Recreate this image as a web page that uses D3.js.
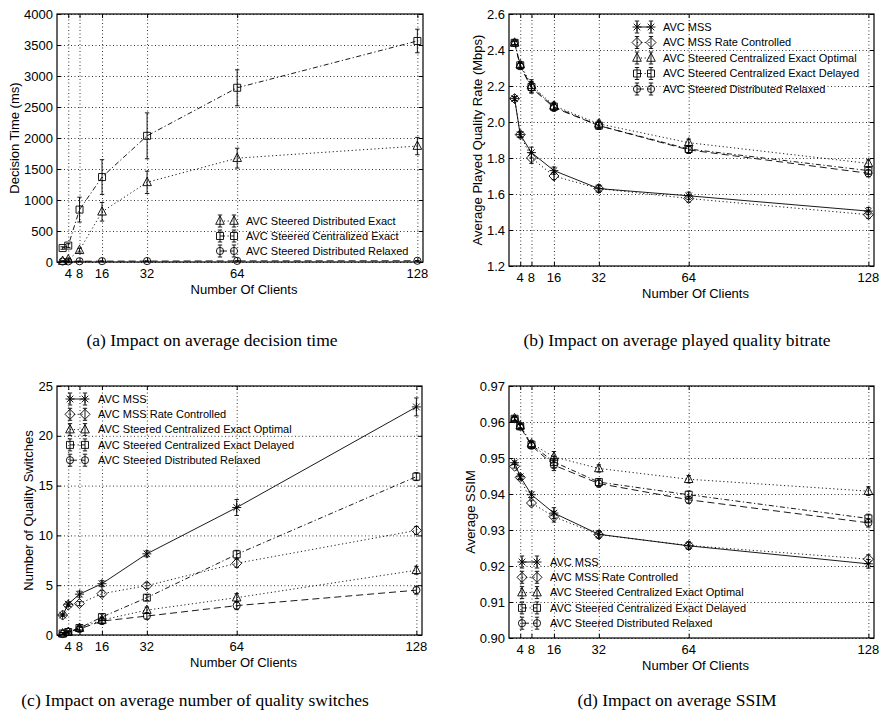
<!DOCTYPE html>
<html>
<head>
<meta charset="utf-8">
<script src="https://cdn.jsdelivr.net/npm/d3@7"></script>
<style>
  body { margin: 0; background: #fff; }
  svg text { font-family: "Liberation Sans", Arial, sans-serif; fill: #000; }
  svg text.cap { font-family: "Liberation Serif", "Times New Roman", serif; }
</style>
</head>
<body>
<svg id="chart" width="880" height="721"></svg>
<script>
const clients = [2, 4, 8, 16, 32, 64, 128];
const xTicks = [4, 8, 16, 32, 64, 128];

// (a) decision time, ms
const timeTicks = [0, 500, 1000, 1500, 2000, 2500, 3000, 3500, 4000];
const timeDistExact = [15, 40, 190, 810, 1285, 1675, 1870];
const timeDistExactErr = [5, 10, 30, 150, 180, 160, 140];
const timeCentExact = [225, 265, 845, 1370, 2035, 2810, 3565];
const timeCentExactErr = [20, 30, 200, 280, 370, 290, 190];
const timeDistRelaxed = [8, 10, 12, 14, 15, 18, 20];
const timeDistRelaxedErr = [3, 3, 3, 3, 3, 3, 3];

// (b) played quality rate, Mbps
const rateTicks = [1.2, 1.4, 1.6, 1.8, 2.0, 2.2, 2.4, 2.6];
const rateMss = [2.13, 1.93, 1.83, 1.73, 1.63, 1.59, 1.505];
const rateMssRc = [2.13, 1.93, 1.80, 1.70, 1.63, 1.575, 1.485];
const rateCentOpt = [2.44, 2.32, 2.205, 2.09, 1.99, 1.885, 1.77];
const rateCentDelayed = [2.44, 2.315, 2.195, 2.085, 1.98, 1.85, 1.73];
const rateDistRelaxed = [2.44, 2.31, 2.19, 2.08, 1.98, 1.845, 1.715];
const rateErr = [0.01, 0.015, 0.03, 0.02, 0.02, 0.02, 0.02];

// (c) quality switches
const switchTicks = [0, 5, 10, 15, 20, 25];
const switchMss = [2.0, 3.1, 4.1, 5.15, 8.15, 12.8, 22.9];
const switchMssErr = [0.1, 0.2, 0.3, 0.3, 0.3, 0.8, 0.9];
const switchMssRc = [2.0, 3.0, 3.15, 4.15, 4.95, 7.2, 10.5];
const switchCentOpt = [0.15, 0.3, 0.7, 1.5, 2.5, 3.75, 6.5];
const switchCentDelayed = [0.15, 0.3, 0.7, 1.8, 3.75, 8.1, 15.9];
const switchDistRelaxed = [0.1, 0.3, 0.6, 1.4, 1.9, 2.95, 4.5];
const switchErr = [0.1, 0.1, 0.2, 0.3, 0.3, 0.4, 0.4];

// (d) SSIM
const ssimTicks = [0.90, 0.91, 0.92, 0.93, 0.94, 0.95, 0.96, 0.97];
const ssimMss = [0.9487, 0.9448, 0.9398, 0.9347, 0.9288, 0.9256, 0.9206];
const ssimMssRc = [0.9477, 0.9446, 0.9375, 0.9337, 0.9287, 0.9257, 0.9219];
const ssimCentOpt = [0.9610, 0.9590, 0.9540, 0.9503, 0.9471, 0.9441, 0.9408];
const ssimCentDelayed = [0.9609, 0.9588, 0.9537, 0.9489, 0.9433, 0.9398, 0.9332];
const ssimDistRelaxed = [0.9608, 0.9587, 0.9534, 0.9480, 0.9429, 0.9384, 0.9320];
const ssimErr = [0.0005, 0.0006, 0.0008, 0.0015, 0.001, 0.001, 0.0012];

const dashes = { solid: null, dotted: "1.2,2.6", dashdot: "5,2.5,1.2,2.5", dashed: "7,4" };

const panels = [
  {
    left: 57, right: 423, top: 14, bottom: 262,
    yDomain: [0, 4000], yTicks: timeTicks, fmt: d => d,
    yLabel: "Decision Time (ms)", yLabelX: 14,
    legend: { m1: 220, m2: 234, tx: 246, y0: 221, dy: 15 },
    caption: { text: "(a) Impact on average decision time", x: 212, y: 346 },
    series: [
      { name: "AVC Steered Distributed Exact", v: timeDistExact, e: timeDistExactErr, mk: "triangle", ls: "dotted" },
      { name: "AVC Steered Centralized Exact", v: timeCentExact, e: timeCentExactErr, mk: "square", ls: "dashdot" },
      { name: "AVC Steered Distributed Relaxed", v: timeDistRelaxed, e: timeDistRelaxedErr, mk: "circle", ls: "dashed" }
    ]
  },
  {
    left: 509, right: 874, top: 14, bottom: 266,
    yDomain: [1.2, 2.6], yTicks: rateTicks, fmt: d3.format(".1f"),
    yLabel: "Average Played Quality Rate (Mbps)", yLabelX: 477,
    legend: { m1: 637, m2: 651, tx: 663, y0: 27, dy: 15.5 },
    caption: { text: "(b) Impact on average played quality bitrate", x: 677, y: 346 },
    series: [
      { name: "AVC MSS", v: rateMss, e: rateErr, mk: "star", ls: "solid" },
      { name: "AVC MSS Rate Controlled", v: rateMssRc, e: rateErr, mk: "diamond", ls: "dotted" },
      { name: "AVC Steered Centralized Exact Optimal", v: rateCentOpt, e: rateErr, mk: "triangle", ls: "dotted" },
      { name: "AVC Steered Centralized Exact Delayed", v: rateCentDelayed, e: rateErr, mk: "square", ls: "dashdot" },
      { name: "AVC Steered Distributed Relaxed", v: rateDistRelaxed, e: rateErr, mk: "circle", ls: "dashed" }
    ]
  },
  {
    left: 57, right: 422, top: 386, bottom: 635,
    yDomain: [0, 25], yTicks: switchTicks, fmt: d => d,
    yLabel: "Number of Quality Switches", yLabelX: 28,
    legend: { m1: 70, m2: 85, tx: 98, y0: 399, dy: 15.3 },
    caption: { text: "(c) Impact on average number of quality switches", x: 195, y: 706 },
    series: [
      { name: "AVC MSS", v: switchMss, e: switchMssErr, mk: "star", ls: "solid" },
      { name: "AVC MSS Rate Controlled", v: switchMssRc, e: switchErr, mk: "diamond", ls: "dotted" },
      { name: "AVC Steered Centralized Exact Optimal", v: switchCentOpt, e: switchErr, mk: "triangle", ls: "dotted" },
      { name: "AVC Steered Centralized Exact Delayed", v: switchCentDelayed, e: switchErr, mk: "square", ls: "dashdot" },
      { name: "AVC Steered Distributed Relaxed", v: switchDistRelaxed, e: switchErr, mk: "circle", ls: "dashed" }
    ]
  },
  {
    left: 509, right: 874, top: 386, bottom: 638,
    yDomain: [0.90, 0.97], yTicks: ssimTicks, fmt: d3.format(".2f"),
    yLabel: "Average SSIM", yLabelX: 470,
    legend: { m1: 522, m2: 537, tx: 550, y0: 562, dy: 15.3 },
    caption: { text: "(d) Impact on average SSIM", x: 677, y: 706 },
    series: [
      { name: "AVC MSS", v: ssimMss, e: ssimErr, mk: "star", ls: "solid" },
      { name: "AVC MSS Rate Controlled", v: ssimMssRc, e: ssimErr, mk: "diamond", ls: "dotted" },
      { name: "AVC Steered Centralized Exact Optimal", v: ssimCentOpt, e: ssimErr, mk: "triangle", ls: "dotted" },
      { name: "AVC Steered Centralized Exact Delayed", v: ssimCentDelayed, e: ssimErr, mk: "square", ls: "dashdot" },
      { name: "AVC Steered Distributed Relaxed", v: ssimDistRelaxed, e: ssimErr, mk: "circle", ls: "dashed" }
    ]
  }
];

function markerPath(type, x, y) {
  const p = d3.path();
  if (type === "star") {
    const s = 4.5, d = 3.3;
    p.moveTo(x - s, y); p.lineTo(x + s, y);
    p.moveTo(x, y - s); p.lineTo(x, y + s);
    p.moveTo(x - d, y - d); p.lineTo(x + d, y + d);
    p.moveTo(x - d, y + d); p.lineTo(x + d, y - d);
  } else if (type === "diamond") {
    p.moveTo(x, y - 5); p.lineTo(x + 5, y); p.lineTo(x, y + 5); p.lineTo(x - 5, y); p.closePath();
  } else if (type === "triangle") {
    p.moveTo(x, y - 5); p.lineTo(x + 4.3, y + 3.3); p.lineTo(x - 4.3, y + 3.3); p.closePath();
  } else if (type === "square") {
    p.rect(x - 3.5, y - 3.5, 7, 7);
  } else {
    p.moveTo(x + 3.6, y); p.arc(x, y, 3.6, 0, 2 * Math.PI);
  }
  return p.toString();
}

function errPath(x, y1, y2) {
  const c = 2.2;
  return `M${x},${y1}V${y2}M${x - c},${y1}H${x + c}M${x - c},${y2}H${x + c}`;
}

const svg = d3.select("#chart");

panels.forEach(cfg => {
  const x = d3.scaleLinear().domain([0, 130]).range([cfg.left, cfg.right]);
  const y = d3.scaleLinear().domain(cfg.yDomain).range([cfg.bottom, cfg.top]);
  const g = svg.append("g");

  // dotted grid
  g.append("g")
    .attr("transform", `translate(0,${cfg.bottom})`)
    .call(d3.axisBottom(x).tickValues(xTicks).tickSize(-(cfg.bottom - cfg.top)).tickFormat(""))
    .call(a => a.select(".domain").remove())
    .selectAll("line").attr("stroke", "#000").attr("stroke-width", 0.8).attr("stroke-dasharray", "1,2.5");
  g.append("g")
    .attr("transform", `translate(${cfg.left},0)`)
    .call(d3.axisLeft(y).tickValues(cfg.yTicks).tickSize(-(cfg.right - cfg.left)).tickFormat(""))
    .call(a => a.select(".domain").remove())
    .selectAll("line").attr("stroke", "#000").attr("stroke-width", 0.8).attr("stroke-dasharray", "1,2.5");

  // inward ticks on all four sides
  g.append("g").attr("transform", `translate(0,${cfg.bottom})`)
    .call(d3.axisTop(x).tickValues(xTicks).tickSize(4).tickFormat(""))
    .call(a => a.select(".domain").remove());
  g.append("g").attr("transform", `translate(0,${cfg.top})`)
    .call(d3.axisBottom(x).tickValues(xTicks).tickSize(4).tickFormat(""))
    .call(a => a.select(".domain").remove());
  g.append("g").attr("transform", `translate(${cfg.left},0)`)
    .call(d3.axisRight(y).tickValues(cfg.yTicks).tickSize(4).tickFormat(""))
    .call(a => a.select(".domain").remove());
  g.append("g").attr("transform", `translate(${cfg.right},0)`)
    .call(d3.axisLeft(y).tickValues(cfg.yTicks).tickSize(4).tickFormat(""))
    .call(a => a.select(".domain").remove());

  // tick labels
  g.selectAll(".xl").data(xTicks).enter().append("text")
    .attr("x", d => x(d)).attr("y", cfg.bottom + 16)
    .attr("text-anchor", "middle").style("font-size", "13px").text(d => d);
  g.selectAll(".yl").data(cfg.yTicks).enter().append("text")
    .attr("x", cfg.left - 4).attr("y", d => y(d)).attr("dy", "0.35em")
    .attr("text-anchor", "end").style("font-size", "13px").text(cfg.fmt);

  g.append("text")
    .attr("x", (cfg.left + cfg.right) / 2 + 4).attr("y", cfg.bottom + 32)
    .attr("text-anchor", "middle").style("font-size", "13px").text("Number Of Clients");
  g.append("text")
    .attr("transform", `translate(${cfg.yLabelX},${(cfg.top + cfg.bottom) / 2}) rotate(-90)`)
    .attr("dy", "0.35em").attr("text-anchor", "middle").style("font-size", "13px").text(cfg.yLabel);

  // series lines
  const line = d3.line().x((d, i) => x(clients[i])).y(d => y(d));
  cfg.series.forEach(s => {
    g.append("path").attr("d", line(s.v)).attr("fill", "none")
      .attr("stroke", "#000").attr("stroke-width", 0.9)
      .attr("stroke-dasharray", dashes[s.ls]);
  });
  cfg.series.forEach(s => {
    s.v.forEach((v, i) => {
      const cx = x(clients[i]);
      g.append("path").attr("d", errPath(cx, y(v - s.e[i]), y(v + s.e[i])))
        .attr("fill", "none").attr("stroke", "#000").attr("stroke-width", 0.9);
      g.append("path").attr("d", markerPath(s.mk, cx, y(v)))
        .attr("fill", "none").attr("stroke", "#000").attr("stroke-width", 0.9);
    });
  });

  // box
  g.append("rect").attr("x", cfg.left).attr("y", cfg.top)
    .attr("width", cfg.right - cfg.left).attr("height", cfg.bottom - cfg.top)
    .attr("fill", "none").attr("stroke", "#000").attr("stroke-width", 1.2);

  // legend
  const L = cfg.legend;
  cfg.series.forEach((s, i) => {
    const ly = L.y0 + i * L.dy;
    g.append("line").attr("x1", L.m1).attr("x2", L.m2).attr("y1", ly).attr("y2", ly)
      .attr("stroke", "#000").attr("stroke-width", 0.9).attr("stroke-dasharray", dashes[s.ls]);
    [L.m1, L.m2].forEach(mx => {
      g.append("path").attr("d", errPath(mx, ly - 6, ly + 6))
        .attr("fill", "none").attr("stroke", "#000").attr("stroke-width", 0.9);
      g.append("path").attr("d", markerPath(s.mk, mx, ly))
        .attr("fill", "none").attr("stroke", "#000").attr("stroke-width", 0.9);
    });
    g.append("text").attr("x", L.tx).attr("y", ly).attr("dy", "0.35em")
      .style("font-size", "11px").text(s.name);
  });

  g.append("text").attr("class", "cap")
    .attr("x", cfg.caption.x).attr("y", cfg.caption.y)
    .attr("text-anchor", "middle").style("font-size", "17.5px").text(cfg.caption.text);
});
</script>
</body>
</html>
